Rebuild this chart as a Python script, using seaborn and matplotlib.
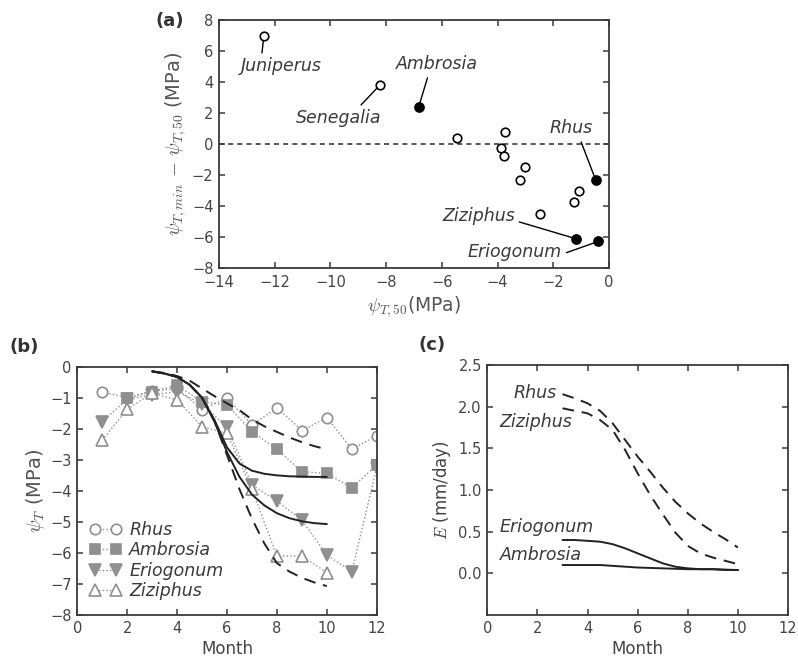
"""Three-panel figure: safety margin scatter, seasonal water potential, transpiration."""

import matplotlib.pyplot as plt
import seaborn as sns

# ---- panel (a): psi_T,50 vs psi_T,min - psi_T,50 ----
open_psi50 = [-12.39, -8.22, -5.44, -3.74, -3.86, -3.77, -3.0, -3.2, -2.47, -1.07, -1.26]
open_margin = [6.94, 3.81, 0.37, 0.75, -0.28, -0.75, -1.47, -2.35, -4.5, -3.02, -3.77]
filled_psi50 = [-6.83, -0.47, -1.17, -0.39]
filled_margin = [2.39, -2.35, -6.12, -6.29]

# label, point (x, y), text centre (x, y), line anchor on text
a_labels = [
    ("Juniperus", (-12.39, 6.94), (-11.75, 5.0), (0.25, 1.0)),
    ("Senegalia", (-8.22, 3.81), (-9.72, 1.66), (0.72, 1.0)),
    ("Ambrosia", (-6.83, 2.39), (-6.17, 5.15), (0.4, 0.0)),
    ("Rhus", (-0.47, -2.35), (-1.37, 1.0), (0.7, 0.0)),
    ("Ziziphus", (-1.17, -6.12), (-4.69, -4.65), (1.0, 0.25)),
    ("Eriogonum", (-0.39, -6.29), (-3.38, -7.0), (1.0, 0.4)),
]

# ---- panel (b): observed monthly psi_T ----
rhus_month = [1, 2, 3, 4, 5, 6, 7, 8, 9, 10, 11, 12]
rhus_psi = [-0.81, -1.0, -0.78, -0.7, -1.38, -1.0, -1.88, -1.32, -2.06, -1.64, -2.65, -2.23]
ambrosia_month = [2, 3, 4, 5, 6, 7, 8, 9, 10, 11, 12]
ambrosia_psi = [-1.0, -0.8, -0.6, -1.13, -1.23, -2.09, -2.66, -3.38, -3.44, -3.9, -3.17]
eriogonum_month = [1, 2, 3, 4, 5, 6, 7, 8, 9, 10, 11, 12]
eriogonum_psi = [-1.77, -1.05, -0.9, -0.8, -1.2, -1.95, -3.81, -4.33, -4.94, -6.07, -6.6, -3.25]
ziziphus_month = [1, 2, 3, 4, 5, 6, 7, 8, 9, 10]
ziziphus_psi = [-2.36, -1.37, -0.85, -1.07, -1.93, -2.15, -3.95, -6.1, -6.1, -6.63]

# ---- modelled curves, read every half month ----
model_month = [3, 3.5, 4, 4.5, 5, 5.5, 6, 6.5, 7, 7.5, 8, 8.5, 9, 9.5, 10]
rhus_model_psi = [-0.15, -0.2, -0.3, -0.45, -0.7, -0.95, -1.18, -1.4, -1.7, -1.92,
                  -2.1, -2.28, -2.43, -2.56, -2.66]
ambrosia_model_psi = [-0.15, -0.22, -0.33, -0.58, -1.0, -1.72, -2.6, -3.12, -3.35, -3.45,
                      -3.5, -3.53, -3.54, -3.55, -3.55]
eriogonum_model_psi = [-0.15, -0.22, -0.33, -0.58, -1.0, -1.78, -2.75, -3.55, -4.12, -4.47,
                       -4.72, -4.88, -4.98, -5.04, -5.07]
ziziphus_model_psi = [-0.15, -0.22, -0.33, -0.58, -1.0, -1.75, -2.85, -3.95, -4.9, -5.7,
                      -6.33, -6.6, -6.8, -6.95, -7.07]

# ---- panel (c): modelled transpiration E ----
rhus_E = [2.15, 2.1, 2.04, 1.95, 1.8, 1.6, 1.4, 1.22, 1.03, 0.86, 0.72, 0.6, 0.5, 0.41, 0.31]
ziziphus_E = [1.98, 1.95, 1.92, 1.84, 1.72, 1.48, 1.2, 0.94, 0.71, 0.49, 0.33, 0.24, 0.19,
              0.15, 0.11]
eriogonum_E = [0.4, 0.4, 0.39, 0.38, 0.35, 0.3, 0.24, 0.18, 0.12, 0.08, 0.06, 0.05, 0.05,
               0.04, 0.04]
ambrosia_E = [0.1, 0.1, 0.1, 0.1, 0.09, 0.08, 0.07, 0.065, 0.06, 0.055, 0.05, 0.05, 0.05,
              0.045, 0.04]

# (label, text x, text y, ha)
c_labels = [
    ("Rhus", 2.75, 2.16, "right"),
    ("Ziziphus", 0.5, 1.82, "left"),
    ("Eriogonum", 0.5, 0.56, "left"),
    ("Ambrosia", 0.5, 0.22, "left"),
]

INK = "#3a3a3a"
GREY = "#8f8f8f"

sns.set_theme(style="ticks")
plt.rcParams["font.family"] = ["DejaVu Sans"]
plt.rcParams["mathtext.fontset"] = "cm"
plt.rcParams["axes.edgecolor"] = INK
plt.rcParams["axes.linewidth"] = 1.3


def style_axes(ax):
    ax.tick_params(direction="in", top=True, right=True, length=4, width=1.1,
                   colors=INK, labelsize=10.5, labelcolor="#444444", pad=4)
    for sp in ax.spines.values():
        sp.set_visible(True)
        sp.set_color(INK)


fig = plt.figure(figsize=(7.98, 6.68), dpi=100)

# ---------------- (a) ----------------
ax_a = fig.add_axes([0.2744, 0.5988, 0.4887, 0.3713])
ax_a.axhline(0, color=INK, lw=1.2, ls=(0, (3, 2.5)), zorder=1)
sns.scatterplot(x=open_psi50, y=open_margin, ax=ax_a, marker="o", s=38,
                facecolor="white", edgecolor="black", linewidth=1.2, zorder=3)
sns.scatterplot(x=filled_psi50, y=filled_margin, ax=ax_a, marker="o", s=45,
                color="black", edgecolor="black", linewidth=1.0, zorder=3)
for name, pt, txt, rel in a_labels:
    ax_a.annotate(name, xy=pt, xytext=txt, ha="center", va="center",
                  fontsize=12.5, style="italic", color=INK,
                  arrowprops=dict(arrowstyle="-", color="black", lw=1.0,
                                  shrinkA=1, shrinkB=3, relpos=rel))
ax_a.set_xlim(-14, 0)
ax_a.set_ylim(-8, 8)
ax_a.set_xticks(range(-14, 1, 2))
ax_a.set_yticks(range(-8, 9, 2))
ax_a.set_xlabel(r"$\psi_{T,50}$(MPa)", fontsize=13.5, color="#555555", labelpad=3)
ax_a.set_ylabel(r"$\psi_{T,min}\,-\,\psi_{T,50}$ (MPa)", fontsize=14,
                color="#555555", labelpad=3)
style_axes(ax_a)
ax_a.tick_params(axis="x", pad=5)
fig.text(0.213, 0.968, "(a)", fontsize=13, fontweight="bold", color="#333333",
         ha="center", va="center")

# ---------------- (b) ----------------
ax_b = fig.add_axes([0.0969, 0.0793, 0.3752, 0.3717])
obs = [
    ("Rhus", rhus_month, rhus_psi, "o", "white", 7.5),
    ("Ambrosia", ambrosia_month, ambrosia_psi, "s", GREY, 7.5),
    ("Eriogonum", eriogonum_month, eriogonum_psi, "v", GREY, 8),
    ("Ziziphus", ziziphus_month, ziziphus_psi, "^", "white", 8),
]
for name, mon, psi, mk, face, ms in obs:
    sns.lineplot(x=mon, y=psi, ax=ax_b, color=GREY, lw=1.0, ls=(0, (1, 1.6)),
                 marker=mk, markersize=ms, markerfacecolor=face,
                 markeredgecolor=GREY, markeredgewidth=1.2, label=name, zorder=2)
models_b = [
    (rhus_model_psi, (0, (6, 4))),
    (ziziphus_model_psi, (0, (6, 4))),
    (ambrosia_model_psi, "-"),
    (eriogonum_model_psi, "-"),
]
for vals, ls in models_b:
    sns.lineplot(x=model_month, y=vals, ax=ax_b, color="#222222", lw=1.4, ls=ls,
                 zorder=3, label="_nolegend_")
ax_b.legend(loc="lower left", bbox_to_anchor=(0.0, 0.01), frameon=False,
            numpoints=2, handlelength=1.8, handletextpad=0.5, labelspacing=0.15,
            borderaxespad=0.3, prop=dict(size=12.5, style="italic"),
            labelcolor=INK)
ax_b.set_xlim(0, 12)
ax_b.set_ylim(-8, 0)
ax_b.set_xticks(range(0, 13, 2))
ax_b.set_yticks(range(-8, 1, 1))
ax_b.set_xlabel("Month", fontsize=12, color="#444444", labelpad=3)
ax_b.set_ylabel(r"$\psi_T$ (MPa)", fontsize=14, color="#555555", labelpad=2)
style_axes(ax_b)
fig.text(0.03, 0.481, "(b)", fontsize=13, fontweight="bold", color="#333333",
         ha="center", va="center")

# ---------------- (c) ----------------
ax_c = fig.add_axes([0.6107, 0.0793, 0.3768, 0.3743])
models_c = [
    (rhus_E, (0, (6, 4))),
    (ziziphus_E, (0, (6, 4))),
    (eriogonum_E, "-"),
    (ambrosia_E, "-"),
]
for vals, ls in models_c:
    sns.lineplot(x=model_month, y=vals, ax=ax_c, color="#222222", lw=1.4, ls=ls)
for name, tx, ty, ha in c_labels:
    ax_c.text(tx, ty, name, ha=ha, va="center", fontsize=12.5, style="italic",
              color=INK)
ax_c.set_xlim(0, 12)
ax_c.set_ylim(-0.5, 2.5)
ax_c.set_xticks(range(0, 13, 2))
ax_c.set_yticks([0.0, 0.5, 1.0, 1.5, 2.0, 2.5])
ax_c.set_yticklabels(["0.0", "0.5", "1.0", "1.5", "2.0", "2.5"])
ax_c.set_xlabel("Month", fontsize=12, color="#444444", labelpad=3)
ax_c.set_ylabel(r"$E$ (mm/day)", fontsize=12, color="#444444", labelpad=4)
style_axes(ax_c)
fig.text(0.541, 0.484, "(c)", fontsize=13, fontweight="bold", color="#333333",
         ha="center", va="center")

fig.savefig("out.png", dpi=100)
